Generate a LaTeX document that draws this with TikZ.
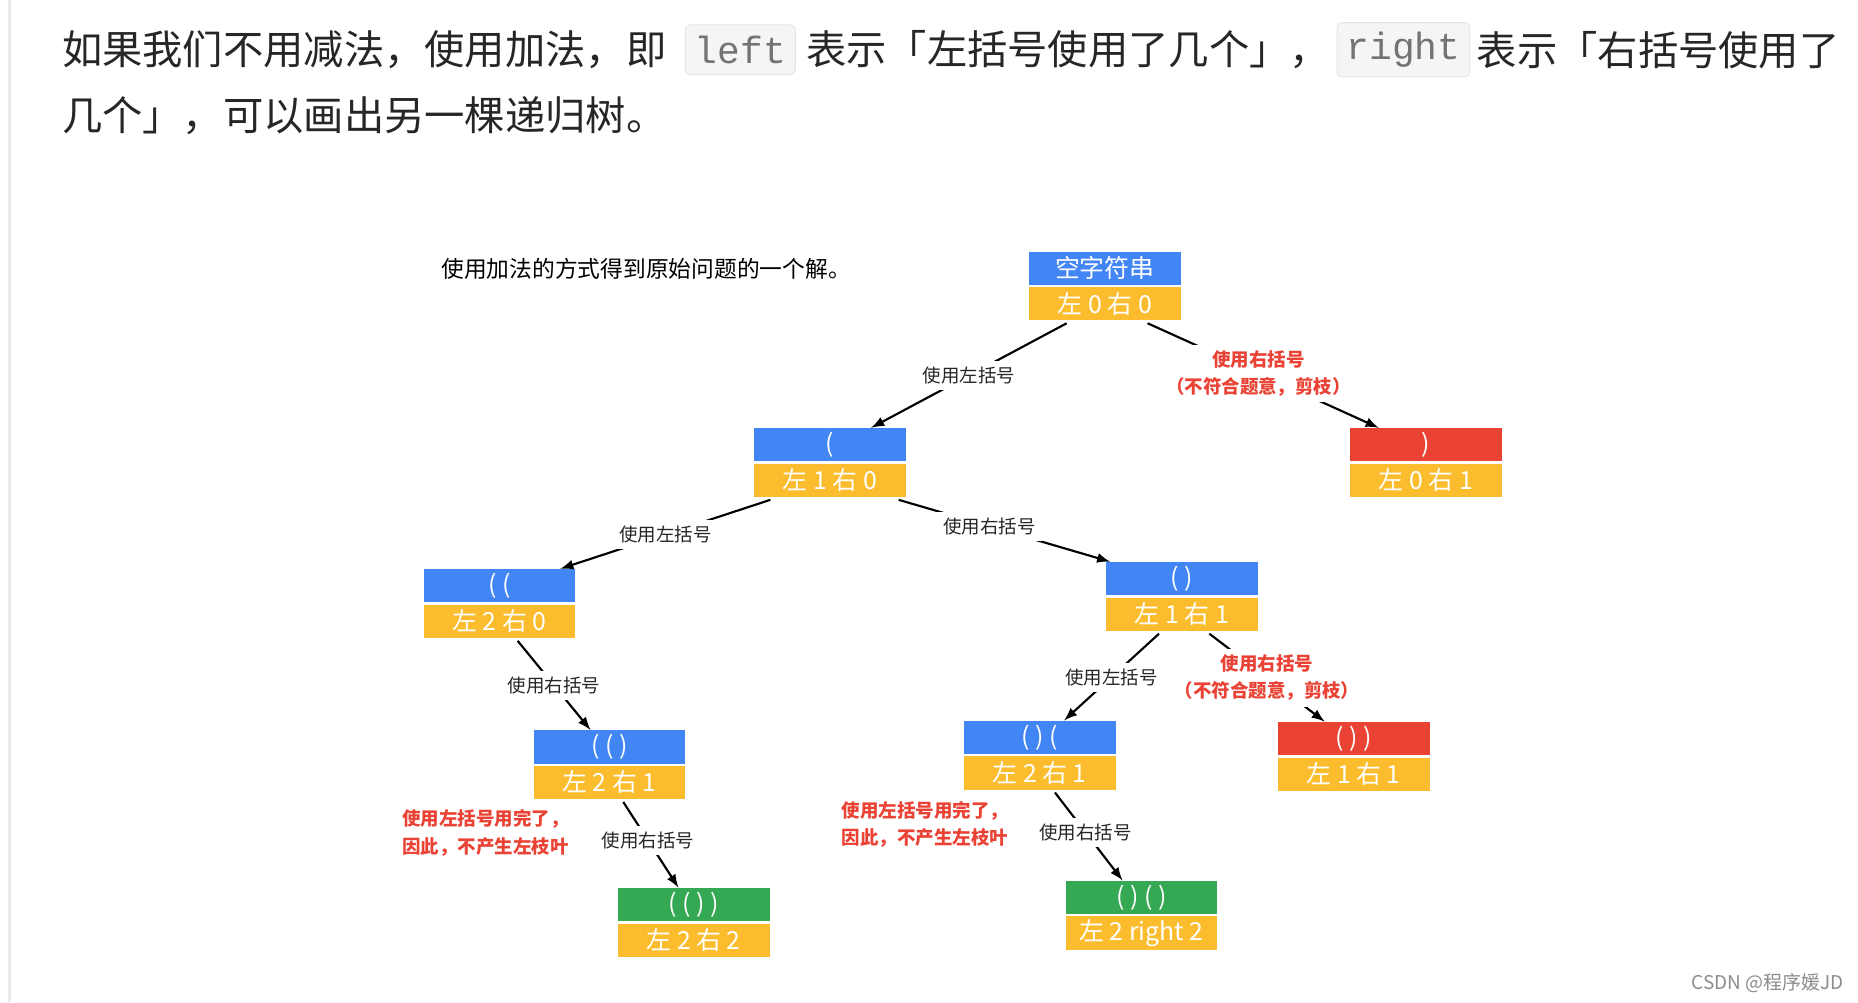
\documentclass[tikz,border=0pt]{standalone}
\usepackage{fontspec}
\setmainfont{Noto Sans CJK SC}
\newfontfamily\monof{Liberation Mono}
\usetikzlibrary{calc}
\begin{document}
\begin{tikzpicture}[x=0.5pt,y=-0.5pt,
  cb/.style={anchor=north west,minimum width=64pt,minimum height=14pt,inner sep=0pt,text=white,font=\fontsize{10.5}{11}\selectfont},
  lab/.style={fill=white,inner sep=2.5pt,font=\fontsize{7.8}{9}\selectfont,text=black!85},
  rlab/.style={fill=white,inner sep=2.5pt,font=\bfseries\fontsize{7.8}{11.5}\selectfont,text=rd,align=center},
  note/.style={anchor=north west,inner sep=0pt,font=\bfseries\fontsize{7.8}{11.5}\selectfont,text=rd,align=left},
  ed/.style={line width=0.9pt,-latex}]
\definecolor{bl}{HTML}{4285F4}
\definecolor{og}{HTML}{FBBC2E}
\definecolor{rd}{HTML}{EA4335}
\definecolor{gn}{HTML}{34A853}
\useasboundingbox (0,0) rectangle (1568,846);
\draw[black!8,line width=1pt] (8,0) -- (8,846);
% header
\tikzset{tt/.style={anchor=west,inner sep=0pt,text=black!85,font=\fontsize{17}{20}\selectfont},
 code/.style={anchor=west,fill=black!4,draw=black!10,rounded corners=2pt,inner sep=4pt,minimum height=21pt,font=\monof\fontsize{16}{18}\selectfont,text=black!55}}
\node[tt] (h1) at (52,42) {如果我们不用减法，使用加法，即};
\node[code] (c1) at (578,42) {left};
\node[tt] (h2) at (680,42) {表示「左括号使用了几个」，};
\node[code] (c2) at (1128,42) {right};
\node[tt] (h3) at (1246,42) {表示「右括号使用了};
\node[tt] (h4) at (52,98) {几个」，可以画出另一棵递归树。};
\node[anchor=west,inner sep=0pt,font=\fontsize{9.6}{11}\selectfont] (cap) at (372,227) {使用加法的方式得到原始问题的一个解。};
% boxes
\newcommand\bx[6]{%
 \node[cb,fill=#4] (#1t) at (#2,#3) {#5};
 \node[cb,fill=og] (#1) at (#2,#3+30) {#6};}
\bx{r}{868}{212}{bl}{空字符串}{左 0 右 0}
\bx{a}{636}{361}{bl}{(}{左 1 右 0}
\bx{b}{1139}{361}{rd}{)}{左 0 右 1}
\bx{c}{357}{480}{bl}{( (}{左 2 右 0}
\bx{d}{933}{474}{bl}{( )}{左 1 右 1}
\bx{e}{450}{616}{bl}{( ( )}{左 2 右 1}
\bx{f}{813}{608}{bl}{( ) (}{左 2 右 1}
\bx{g}{1078}{609}{rd}{( ) )}{左 1 右 1}
\bx{h}{521}{749}{gn}{( ( ) )}{左 2 右 2}
\bx{k}{899}{743}{gn}{( ) ( )}{左 2 right 2}
% edges
\newcommand\edg[6]{\draw[ed] ([yshift=-1pt]$(#1.south west)!#2!(#1.south east)$) -- node[#6]{#5} ($(#3t.north west)!#4!(#3t.north east)$);}
\edg{r}{0.25}{a}{0.77}{使用左括号}{lab}
\edg{r}{0.78}{b}{0.19}{使用右括号\\（不符合题意，剪枝）}{rlab,pos=0.48}
\edg{a}{0.11}{c}{0.9}{使用左括号}{lab}
\edg{a}{0.95}{d}{0.03}{使用右括号}{lab,pos=0.43}
\edg{c}{0.62}{e}{0.375}{使用右括号}{lab}
\edg{d}{0.35}{f}{0.66}{使用左括号}{lab}
\edg{d}{0.68}{g}{0.31}{使用右括号\\（不符合题意，剪枝）}{rlab,pos=0.5}
\edg{e}{0.59}{h}{0.4}{使用右括号}{lab,pos=0.45}
\edg{f}{0.6}{k}{0.375}{使用右括号}{lab,pos=0.45}
\node[note] (n1) at (339,683) {使用左括号用完了，\\因此，不产生左枝叶};
\node[note] (n2) at (710,676) {使用左括号用完了，\\因此，不产生左枝叶};
\node[anchor=east,inner sep=0pt,text=black!45,font=\fontsize{8}{9}\selectfont] (wm) at (1556,830) {CSDN @程序媛JD};
\end{tikzpicture}
\end{document}
